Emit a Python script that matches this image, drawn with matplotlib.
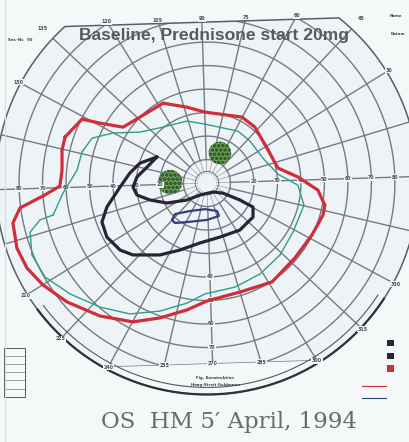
import numpy as np
import matplotlib.pyplot as plt
from matplotlib.patches import Polygon, Circle, Rectangle

# Goldmann chart, left eye. All values in degrees of visual field
# (x = horizontal, y = vertical, 0,0 = fixation)
rings = [10, 20, 30, 40, 50, 60, 70, 80]
meridians = list(range(0, 360, 15))

# outer isopter (red)
red_x = [-60.4, -53.2, -45.5, -35.7, -28.5, -18.7, -8.5, -0.9, 14.9, 20.4, 26.0, 30.2,
         38.7, 47.2, 50.2, 49.4, 44.7, 37.4, 27.7, 14.0, 0.0, -8.5, -20.0, -31.5,
         -45.5, -59.6, -69.8, -76.6, -80.9, -82.6, -79.6, -69.8, -62.6, -61.7, -61.7]
red_y = [19.6, 27.2, 25.5, 23.8, 28.1, 34.0, 32.3, 30.2, 28.1, 23.8, 14.0, 6.4,
         2.6, -3.0, -9.4, -13.6, -22.1, -31.9, -42.1, -46.4, -50.2, -54.0, -57.4, -59.1,
         -56.6, -50.6, -43.4, -36.2, -27.7, -17.0, -10.6, -5.5, -1.3, 5.5, 14.0]

# second isopter (green)
teal_x = [-65.5, -61.3, -55.3, -53.2, -48.9, -40.0, -28.5, -18.7, -8.5, -0.9, 13.2, 18.3,
          23.8, 30.2, 38.7, 41.3, 36.6, 31.1, 22.6, 11.9, -0.9, -8.5, -20.0, -32.8,
          -45.5, -58.3, -68.9, -74.5, -75.3, -71.1]
teal_y = [-13.6, -4.3, 5.5, 13.2, 19.1, 21.3, 21.7, 23.8, 26.4, 25.1, 22.1, 17.9,
          10.6, 3.8, -0.9, -9.4, -20.9, -30.6, -38.7, -44.3, -47.2, -51.1, -54.5, -55.7,
          -52.8, -47.2, -40.0, -30.6, -20.9, -15.7]

# inner isopter (dark)
dark_x = [-21.3, -28.5, -32.8, -37.0, -42.6, -44.7, -42.6, -37.0, -31.5, -20.0, -11.5,
          -3.0, 5.5, 14.0, 19.6, 19.6, 14.0, 6.8, 2.6, -3.0, -8.5, -17.0, -24.3, -29.8,
          -31.5, -29.8, -25.5]
dark_y = [11.1, 8.5, 4.3, -1.7, -10.2, -16.6, -23.0, -28.5, -30.6, -30.6, -28.5,
          -25.5, -23.0, -20.0, -14.5, -10.2, -7.2, -4.3, -3.8, -5.1, -7.2, -8.5, -7.2, -5.1,
          -1.7, 2.6, 6.8]

# smallest isopter (blue)
blue_x = [-14.9, -13.6, -7.2, -0.9, 4.3, 5.1, 0.0, -8.5, -13.6]
blue_y = [-15.7, -13.2, -11.9, -11.1, -11.9, -14.0, -15.7, -16.6, -17.0]

# scotomas (green shaded)
blob_x = [-15.7, 5.5]
blob_y = [0.4, 12.8]
blob_r = [5.2, 4.8]

title = 'Baseline, Prednisone start 20mg'
caption = 'OS  HM 5\u2032 April, 1994'

TILT = 1.8        # the scan is a little rotated
TOP_CUT = 68.5
BOTTOM_CUT = -77.0
GRID = '#767b81'


def rot(x, y, a=TILT):
    t = np.radians(a)
    x = np.asarray(x, float)
    y = np.asarray(y, float)
    return x * np.cos(t) - y * np.sin(t), x * np.sin(t) + y * np.cos(t)


fig = plt.figure(figsize=(4.09, 4.42), dpi=100)
fig.patch.set_facecolor('#f5f8f8')
ax = fig.add_axes([0, 0, 1, 1])
ax.set_xlim(-88.1, 86.0)
ax.set_ylim(-110.2, 77.9)
ax.set_aspect('equal')
ax.axis('off')

# chart area, also used as clip for the grid
th = np.linspace(0, 2 * np.pi, 721)
cx, cy = 90 * np.cos(th), np.clip(90 * np.sin(th), BOTTOM_CUT, TOP_CUT)
area = Polygon(np.column_stack(rot(cx, cy)), closed=True, facecolor='#edf3f6',
               edgecolor='none', zorder=0)
ax.add_patch(area)

# rings
for r in rings + [5]:
    x, y = rot(r * np.cos(th), r * np.sin(th))
    ln, = ax.plot(x, y, color=GRID, lw=1.0 if r > 5 else 0.7, zorder=1)
    ln.set_clip_path(area)

# meridians
for m in meridians:
    a = np.radians(m)
    x, y = rot([10 * np.cos(a), 95 * np.cos(a)], [10 * np.sin(a), 95 * np.sin(a)])
    ln, = ax.plot(x, y, color=GRID, lw=1.0, zorder=1)
    ln.set_clip_path(area)
for m in meridians:
    a = np.radians(m)
    x, y = rot([4 * np.cos(a), 10 * np.cos(a)], [4 * np.sin(a), 10 * np.sin(a)])
    ax.plot(x, y, color=GRID, lw=0.5, alpha=0.7, zorder=1)

# outline: top cut + 90 degree circle, bottom cut line
ox, oy = 90 * np.cos(th), np.minimum(90 * np.sin(th), TOP_CUT)
ax.plot(*rot(ox, oy), color='#5a5e63', lw=1.1, zorder=2)
ax.plot(*rot([-60, 60], [BOTTOM_CUT, BOTTOM_CUT]), color=GRID, lw=1.0, zorder=1,
        clip_path=area)
arc = np.radians(np.linspace(215, 325, 200))
ax.plot(*rot(87 * np.cos(arc), 87 * np.sin(arc)), color='#55595e', lw=0.8, zorder=2)
ax.plot(*rot(90 * np.cos(arc), 90 * np.sin(arc)), color='#2f3236', lw=1.6, zorder=2)

# meridian labels
lab = dict(fontsize=3.4, color='#4a4d52', ha='center', va='center', weight='bold',
           bbox=dict(boxstyle='square,pad=0.1', fc='#f3f6f7', ec='none'), zorder=4)
for m in meridians:
    a = np.radians(m)
    r = 96 if m in (45, 135) else 91
    if np.sin(a) > 0 and r * np.sin(a) > TOP_CUT + 1.5:
        r = (TOP_CUT + 1.5) / np.sin(a)
    if np.sin(a) < 0 and r * np.sin(a) < BOTTOM_CUT:
        r = BOTTOM_CUT / np.sin(a)
    x, y = rot(r * np.cos(a), r * np.sin(a))
    if -86 < x < 84 and -108 < y < 76:
        ax.text(x, y, str(m), **lab)
# eccentricity labels on the horizontal and vertical meridian
for r in rings[1:]:
    for s in (-1, 1):
        x, y = rot(s * r, 0)
        ax.text(x, y, str(r), **lab)
for r in rings[3:7]:
    x, y = rot(0, -r)
    ax.text(x, y, str(r), **lab)

# scotomas
for bx, by, br in zip(blob_x, blob_y, blob_r):
    x, y = rot(bx, by, 0)
    ax.add_patch(Circle((x, y), br, facecolor='#5d9447', edgecolor='#2e5a2a',
                        hatch='oooo', lw=0, alpha=0.9, zorder=3))

# isopters
for xs, ys, col, lw in [(teal_x, teal_y, '#2f9e86', 1.0),
                        (red_x, red_y, '#cf2e3b', 2.3),
                        (dark_x, dark_y, '#2a2235', 2.3),
                        (blue_x, blue_y, '#33407a', 1.6)]:
    ax.plot(xs + xs[:1], ys + ys[:1], color=col, lw=lw, solid_joinstyle='round',
            solid_capstyle='round', zorder=5)

# bits of the printed form
ax.text(3.0, 62.8, title, fontsize=12.6, weight='bold', color='#5a5a5a',
        family='Liberation Sans', ha='center', va='center', zorder=6)
ax.text(9.4, -101.5, caption, fontsize=16.5, color='#6a6a6a', family='DejaVu Serif',
        ha='center', va='center')
small = dict(fontsize=2.8, weight='bold', color='#3d3f44', ha='center', va='center')
ax.text(80.5, 71.0, 'Name', **small)
ax.text(81.5, 63.5, 'Datum', **small)
ax.text(-79.5, 61.0, 'Ser.-Nr.  90', **small)
ax.text(3.5, -83.0, 'Fig. Konstruktion', **small)
ax.text(3.5, -86.0, 'Haag-Streit Goldmann', **small)
ax.add_patch(Rectangle((-86.5, -91), 9, 21, fc='#f7f9f9', ec='#55595e', lw=0.7))
for k in range(6):
    ax.plot([-86.5, -77.5], [-87.5 + 3.5 * k, -87.5 + 3.5 * k], color='#55595e', lw=0.4)
ax.add_patch(Rectangle((76.5, -69.5), 3, 2.5, fc='#2a2235', ec='none'))
ax.add_patch(Rectangle((76.5, -75), 3, 2.5, fc='#2a2235', ec='none'))
ax.add_patch(Rectangle((76.5, -80.5), 3, 3, fc='#cf2e3b', ec='none'))
ax.plot([66, 76], [-86.5, -86.5], color='#cf2e3b', lw=0.8)
ax.plot([66, 76], [-91.5, -91.5], color='#33407a', lw=0.8)
ax.plot([-86.0, -86.0], [-110, 78], color='#d9dede', lw=0.8)

fig.savefig('out.png', dpi=100, facecolor=fig.get_facecolor())
